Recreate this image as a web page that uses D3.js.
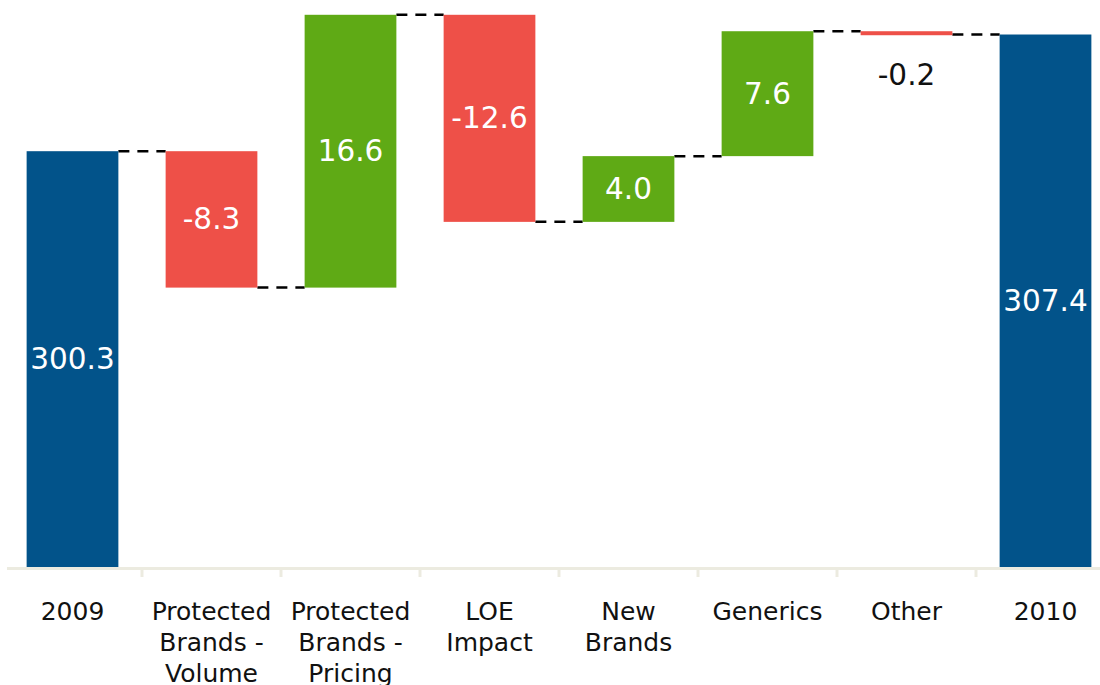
<!DOCTYPE html>
<html><head><meta charset="utf-8">
<script src="https://cdn.jsdelivr.net/npm/d3@7"></script>
<style>body{margin:0;background:#fff}svg{display:block;font-family:"DejaVu Sans",Verdana,sans-serif}</style>
</head><body><svg id="c" width="1100" height="685"></svg>
<script>
const categories = ["2009","Protected Brands - Volume","Protected Brands - Pricing","LOE Impact","New Brands","Generics","Other","2010"];
const labelLines = [["2009"],["Protected","Brands -","Volume"],["Protected","Brands -","Pricing"],["LOE","Impact"],["New","Brands"],["Generics"],["Other"],["2010"]];
const values = [300.3, -8.3, 16.6, -12.6, 4.0, 7.6, -0.2, 307.4];
const isTotal = [true, false, false, false, false, false, false, true];

const colors = {total:"#02538A", up:"#5FAA15", down:"#EE5048", axis:"#ECEBE0"};
const svg = d3.select("#c");
const W = 1100, base = 567;

const x = d3.scaleBand().domain(categories).range([3, 1115]).paddingInner(0.34).paddingOuter(0.17);
const y = d3.scaleLinear().domain([275, 309.5]).range([base, 0]);

let run = 0;
const segs = categories.map((c, i) => {
  let y0, y1;
  if (isTotal[i]) { y0 = y.domain()[0]; y1 = values[i]; run = values[i]; }
  else { y0 = run; y1 = run + values[i]; run = y1; }
  return {c, i, v: values[i], y0, y1, end: isTotal[i] ? values[i] : y1};
});

const fmt = v => d3.format(".1f")(v).replace("\u2212", "-");

// connectors
const conn = svg.append("g");
for (let i = 0; i < segs.length - 1; i++) {
  const lvl = segs[i].end;
  conn.append("line")
    .attr("x1", x(segs[i].c) + x.bandwidth()).attr("x2", x(segs[i+1].c))
    .attr("y1", y(lvl)).attr("y2", y(lvl))
    .attr("stroke", "#000").attr("stroke-width", 2.5).attr("stroke-dasharray", "11,8");
}

// bars
svg.append("g").selectAll("rect").data(segs).join("rect")
  .attr("x", d => x(d.c)).attr("width", x.bandwidth())
  .attr("y", d => Math.min(y(d.y0), y(d.y1)))
  .attr("height", d => Math.max(4, Math.abs(y(d.y0) - y(d.y1))))
  .attr("fill", d => isTotal[d.i] ? colors.total : (d.v >= 0 ? colors.up : colors.down));

// value labels
svg.append("g").selectAll("text").data(segs).join("text")
  .attr("x", d => x(d.c) + x.bandwidth() / 2)
  .attr("y", d => {
    const h = Math.abs(y(d.y0) - y(d.y1));
    if (h < 40) return Math.max(y(d.y0), y(d.y1)) + 40;
    return (y(d.y0) + y(d.y1)) / 2;
  })
  .attr("text-anchor", "middle").attr("dominant-baseline", "central")
  .attr("font-size", 29.5)
  .attr("fill", d => Math.abs(y(d.y0) - y(d.y1)) < 40 ? "#111" : "#fff")
  .text(d => fmt(d.v));

// x axis
const ax = svg.append("g");
ax.append("line").attr("x1", 7).attr("x2", W).attr("y1", base + 1.5).attr("y2", base + 1.5)
  .attr("stroke", colors.axis).attr("stroke-width", 3);
categories.slice(1).forEach(c => {
  const tx = x(c) - x.step() * x.paddingInner() / 2;
  ax.append("line").attr("x1", tx).attr("x2", tx).attr("y1", base).attr("y2", base + 10)
    .attr("stroke", colors.axis).attr("stroke-width", 3);
});
categories.forEach((c, i) => {
  const t = ax.append("text").attr("x", x(c) + x.bandwidth() / 2).attr("y", 620)
    .attr("text-anchor", "middle").attr("font-size", 25).attr("fill", "#111");
  labelLines[i].forEach((ln, j) => {
    t.append("tspan").attr("x", x(c) + x.bandwidth() / 2).attr("dy", j === 0 ? 0 : 31).text(ln);
  });
});
</script></body></html>
